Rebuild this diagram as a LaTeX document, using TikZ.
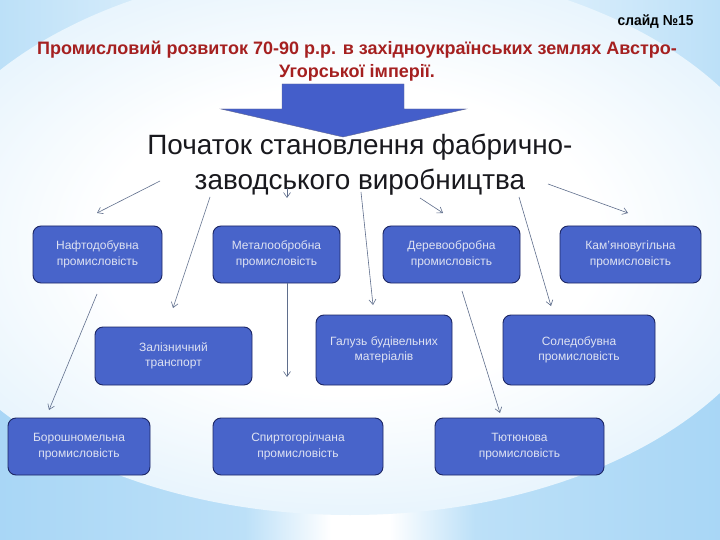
\documentclass[tikz,border=0pt]{standalone}
\usepackage{fontspec}
\setmainfont{Liberation Sans}
\newfontfamily\narrowbold[FakeStretch=0.95]{Liberation Sans Bold}
\newfontfamily\titlebold{Liberation Sans Bold}
\usetikzlibrary{arrows.meta}
\definecolor{bgblue}{RGB}{125,192,240}
\definecolor{midblue}{RGB}{188,224,248}
\definecolor{edgeblue}{RGB}{160,208,245}
\definecolor{lowblue}{RGB}{140,200,242}
\definecolor{boxfill}{RGB}{72,100,202}
\definecolor{boxline}{RGB}{28,38,100}
\definecolor{boxtext}{RGB}{222,226,242}
\definecolor{titlered}{RGB}{165,32,32}
\definecolor{connc}{RGB}{95,110,140}
\definecolor{arrowfill}{RGB}{68,94,202}
\pgfdeclarehorizontalshading{sky}{100bp}{color(0bp)=(bgblue); color(25bp)=(midblue); color(50bp)=(white); color(75bp)=(midblue); color(100bp)=(bgblue)}
\pgfdeclareradialshading{glow}{\pgfpoint{0bp}{0bp}}{color(0bp)=(white); color(14bp)=(white); color(32bp)=(midblue!55!white); color(50bp)=(edgeblue)}
\pgfdeclarehorizontalshading{lowband}{100bp}{color(0bp)=(lowblue); color(42bp)=(midblue); color(48bp)=(white); color(52bp)=(white); color(58bp)=(midblue); color(100bp)=(lowblue)}
\tikzset{
  branch/.style={draw=boxline, line width=0.9pt, fill=boxfill, rounded corners=8pt,
    text=boxtext, font=\fontsize{12}{15.5}\selectfont, align=center, inner sep=0pt},
  conn/.style={draw=connc, line width=0.6pt, -{Straight Barb[length=5pt,width=7pt]}}
}
\begin{document}
\begin{tikzpicture}[x=1pt,y=-1pt]
\useasboundingbox (0,0) rectangle (720,540);
% background
\begin{scope}
\clip (0,0) rectangle (720,540);
\shade[shading=sky] (0,0) rectangle (720,540);
\begin{scope}
\clip (0,380) rectangle (720,540);
\shade[shading=lowband] (0,380) rectangle (720,540);
\end{scope}
\shade[shading=glow] (350,240) ellipse [x radius=445, y radius=275];
\end{scope}

% headings
\node[font=\narrowbold\fontsize{14.5}{16}\selectfont, anchor=east] (slide) at (697,22) {слайд №15};
\node[font=\titlebold\fontsize{18}{23}\selectfont, text=titlered, align=center] (title) at (357,61)
  {Промисловий розвиток 70-90 р.р. в західноукраїнських землях Австро-\\Угорської імперії.};

% big arrow
\fill[arrowfill, draw=boxline!70, line width=0.4pt]
  (282,84) -- (404,84) -- (404,109) -- (466,109) -- (343,137) -- (221,109) -- (282,109) -- cycle;

\node[font=\fontsize{27.9}{35}\selectfont, text={rgb,255:red,25;green,25;blue,30}, align=center] (main) at (360,165)
  {Початок становлення фабрично-\\заводського виробництва};

% boxes
\node[branch, minimum width=129pt, minimum height=57pt] (naft) at (97.5,254.5) {Нафтодобувна\\промисловість};
\node[branch, minimum width=127pt, minimum height=57pt] (metal) at (276.5,254.5) {Металообробна\\промисловість};
\node[branch, minimum width=137pt, minimum height=57pt] (derevo) at (451.5,254.5) {Деревообробна\\промисловість};
\node[branch, minimum width=141pt, minimum height=57pt] (kamyan) at (630.5,254.5) {Кам’яновугільна\\промисловість};

\node[branch, minimum width=157pt, minimum height=58pt] (zaliz) at (173.5,356) {Залізничний\\транспорт};
\node[branch, minimum width=136pt, minimum height=70pt] (haluz) at (384,350) {Галузь будівельних\\матеріалів};
\node[branch, minimum width=152pt, minimum height=70pt] (sole) at (579,350) {Соледобувна\\промисловість};

\node[branch, minimum width=142pt, minimum height=57pt] (boros) at (79,446.5) {Борошномельна\\промисловість};
\node[branch, minimum width=170pt, minimum height=57pt] (spyrt) at (298,446.5) {Спиртогорілчана\\промисловість};
\node[branch, minimum width=169pt, minimum height=57pt] (tyut) at (519.5,446.5) {Тютюнова\\промисловість};

% connector end points
\coordinate (s1) at (160,181); \coordinate (t1) at (97,213);
\coordinate (s2) at (210,197); \coordinate (t2) at (173,308);
\coordinate (s3) at (287,188); \coordinate (t3) at (287,198);
\coordinate (s4) at (361,192); \coordinate (t4) at (373,305);
\coordinate (s5) at (420,198); \coordinate (t5) at (443,213);
\coordinate (s6) at (519,197); \coordinate (t6) at (551,306);
\coordinate (s7) at (548,184); \coordinate (t7) at (628,213);
\coordinate (s8) at (97,294);  \coordinate (t8) at (49,410);
\coordinate (s9) at (287,283); \coordinate (t9) at (287,377);
\coordinate (s10) at (462,291); \coordinate (t10) at (500,413);

\draw[conn] (s1) -- (t1);
\draw[conn] (s2) -- (t2);
\draw[conn] (s3) -- (t3);
\draw[conn] (s4) -- (t4);
\draw[conn] (s5) -- (t5);
\draw[conn] (s6) -- (t6);
\draw[conn] (s7) -- (t7);
\draw[conn] (s8) -- (t8);
\draw[conn] (s9) -- (t9);
\draw[conn] (s10) -- (t10);
\end{tikzpicture}
\end{document}
